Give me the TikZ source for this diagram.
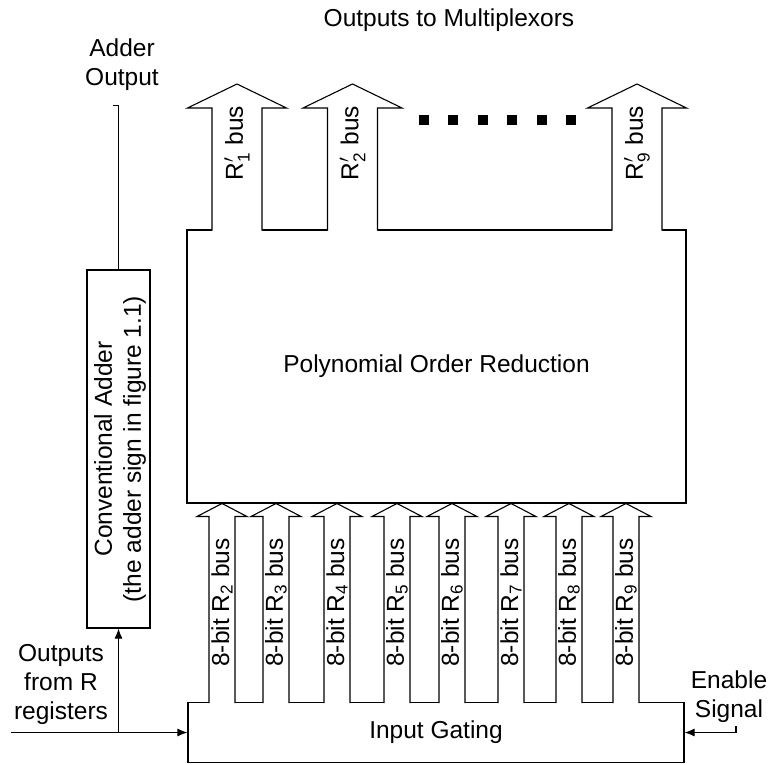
\documentclass[tikz,border=0pt]{standalone}
\usepackage{fontspec}
\setmainfont{Liberation Sans}
\usepackage{amsmath}
\usetikzlibrary{arrows.meta}

\begin{document}
\begin{tikzpicture}[
    x=1pt, y=-1pt,
    line width=1.1pt,
    every node/.style={font=\fontsize{24.5}{29}\selectfont},
    block/.style={draw, rectangle, inner sep=0pt, align=center},
    sig/.style={-{Latex[length=10pt, width=8pt]}},
    pics/inbus/.style={code={
        \fill[white] (-13,0.8) -- (-13,-186) -- (-25,-186) -- (0,-199) -- (25,-186) -- (13,-186) -- (13,0.8) -- cycle;
        \draw (-13,0.6) -- (-13,-186) -- (-25,-186) -- (0,-199) -- (25,-186) -- (13,-186) -- (13,0.6);
        \node[rotate=90] (-label) at (0,-100) {8-bit R\textsubscript{#1} bus};
    }},
    pics/outbus/.style={code={
        \fill[white] (-25,0.8) -- (-25,-122) -- (-49.5,-122) -- (0,-146) -- (49.5,-122) -- (25,-122) -- (25,0.8) -- cycle;
        \draw (-25,0.6) -- (-25,-122) -- (-49.5,-122) -- (0,-146) -- (49.5,-122) -- (25,-122) -- (25,0.6);
        \node[rotate=90] (-label) at (0,-87) {R$^{\prime}_{\text{#1}}$ bus};
    }}
]
    \useasboundingbox (0,0) rectangle (771,765);

    % Blocks
    \node[block, minimum width=499pt, minimum height=273pt] (por) at (436.5,366.5) {Polynomial Order Reduction};
    \node[block, minimum width=496pt, minimum height=60pt] (gating) at (436,732.5) {Input Gating};
    \node[block, minimum width=63pt, minimum height=358pt] (adder) at (118.5,449) {};
    \node[rotate=90, align=center] (addertext) at (120,449) {Conventional Adder\\(the adder sign in figure 1.1)};

    % Output buses
    \pic (r1) at (237,230) {outbus=1};
    \pic (r2) at (352.5,230) {outbus=2};
    \pic (r9) at (637,230) {outbus=9};

    % Dots between the output buses
    \fill (419,115) rectangle ++(10,10);
    \fill (448.4,115) rectangle ++(10,10);
    \fill (477.8,115) rectangle ++(10,10);
    \fill (507.2,115) rectangle ++(10,10);
    \fill (536.6,115) rectangle ++(10,10);
    \fill (566,115) rectangle ++(10,10);

    % Input buses
    \pic (b2) at (222,702.5) {inbus=2};
    \pic (b3) at (276,702.5) {inbus=3};
    \pic (b4) at (337,702.5) {inbus=4};
    \pic (b5) at (397,702.5) {inbus=5};
    \pic (b6) at (452,702.5) {inbus=6};
    \pic (b7) at (511,702.5) {inbus=7};
    \pic (b8) at (569,702.5) {inbus=8};
    \pic (b9) at (626,702.5) {inbus=9};

    % Labels
    \node (muxlabel) at (449,20.6) {Outputs to Multiplexors};
    \node[align=center] (addout) at (122,65) {Adder\\Output};
    \node[align=center] (rlabel) at (61,684.5) {Outputs\\from R\\registers};
    \node[align=center] (enlabel) at (729,697) {Enable\\Signal};

    % Connections
    \draw (adder.north) |- ++(-6,-164);
    \coordinate (rin) at (11,732.5);
    \draw[sig] (rin) -- (gating.west);
    \draw[sig] (adder.south |- rin) -- (adder.south);
    \coordinate (en) at (736,726);
    \draw[sig] (en) |- (gating.east);

\end{tikzpicture}
\end{document}
